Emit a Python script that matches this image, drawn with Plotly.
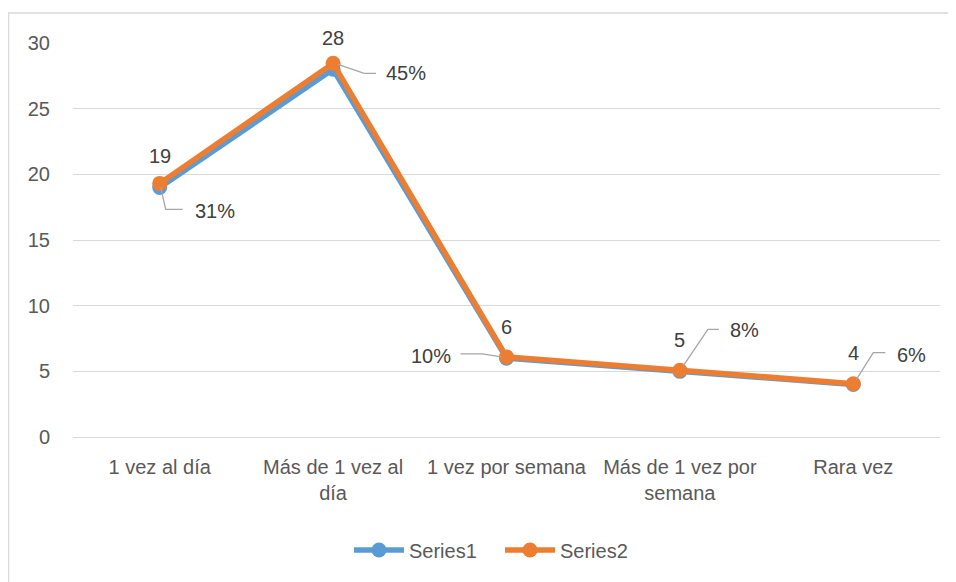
import plotly.graph_objects as go

# ---- data ----
categories = ["1 vez al día", "Más de 1 vez al día", "1 vez por semana",
              "Más de 1 vez por semana", "Rara vez"]
tick_labels = ["1 vez al día", "Más de 1 vez al<br>día", "1 vez por semana",
               "Más de 1 vez por<br>semana", "Rara vez"]
series1 = [19, 28, 6, 5, 4]
series2 = [0.31, 0.45, 0.10, 0.08, 0.06]   # stacked on Series1, shown as %
y_ticks = [0, 5, 10, 15, 20, 25, 30]

# ---- style ----
BLUE = "#5B9BD5"
ORANGE = "#ED7D31"
GRID = "#D9D9D9"
TXT = "#595959"
LBL = "#404040"
LEAD = "#A6A6A6"
FONT = "Liberation Sans, Arial, sans-serif"
FS = 20

OFF = 8  # page body margin
W, H = 956 - OFF, 582 - OFF
L, R, T, B = 65, 16, 35, 145
pw, ph = W - L - R, H - T - B

xs = list(range(len(categories)))

fig = go.Figure()
fig.add_trace(go.Scatter(
    x=xs, y=series1, name="Series1", mode="lines+markers",
    stackgroup="one", fill="none",
    line=dict(color=BLUE, width=5.5), marker=dict(color=BLUE, size=15),
))
fig.add_trace(go.Scatter(
    x=xs, y=series2, name="Series2", mode="lines+markers",
    stackgroup="one", fill="none",
    line=dict(color=ORANGE, width=5.5), marker=dict(color=ORANGE, size=15),
))

annotations = []
shapes = []

# Series1 value labels (above point)
for i, v in enumerate(series1):
    annotations.append(dict(
        x=i, y=v, xref="x", yref="y", text=str(v), showarrow=False,
        yshift=31, font=dict(family=FONT, size=FS, color=LBL),
    ))

# Series2 percentage labels with elbow leader lines (screen-pixel offsets)
leader = [
    dict(p=[(1, 4), (6, 26), (23, 26)], t=(33, 28), anchor="left"),
    dict(p=[(5, 1), (31, 10), (43, 10)], t=(51, 10), anchor="left"),
    dict(p=[(-5, 0), (-24, -3), (-46, -3)], t=(-54, -1), anchor="right"),
    dict(p=[(3, -4), (28, -41), (39, -41)], t=(48, -40), anchor="left"),
    dict(p=[(3, -4), (20, -31), (32, -31)], t=(42, -29), anchor="left"),
]
for i, (a, b) in enumerate(zip(series1, series2)):
    top = a + b
    spec = leader[i]
    pts = spec["p"]
    path = "M {},{} ".format(pts[0][0], -pts[0][1]) + " ".join(
        "L {},{}".format(px, -py) for px, py in pts[1:])
    shapes.append(dict(
        type="path", xref="x", yref="y", xsizemode="pixel", ysizemode="pixel",
        xanchor=i, yanchor=top, path=path,
        line=dict(color=LEAD, width=1.3),
    ))
    annotations.append(dict(
        x=i, y=top, xref="x", yref="y", text="{:.0%}".format(b), showarrow=False,
        xanchor=spec["anchor"], yanchor="middle",
        xshift=spec["t"][0], yshift=-spec["t"][1],
        font=dict(family=FONT, size=FS, color=LBL),
    ))

# chart border (left + top), given in page pixels
def px_x(p):
    return (p - OFF - L) / pw

def px_y(p):
    return (T + ph - (p - OFF)) / ph

shapes.append(dict(
    type="path", xref="paper", yref="paper",
    path="M {},{} L {},{} L {},{}".format(px_x(8.5), px_y(600), px_x(8.5), px_y(13),
                                        px_x(970), px_y(13)),
    line=dict(color=GRID, width=1.5), layer="below",
))

fig.update_layout(
    width=W, height=H,
    margin=dict(l=L, r=R, t=T, b=B),
    paper_bgcolor="white", plot_bgcolor="white",
    font=dict(family=FONT, size=FS, color=TXT),
    showlegend=True,
    legend=dict(orientation="h", x=px_x(500), xanchor="center",
                y=px_y(550), yanchor="middle",
                font=dict(family=FONT, size=FS, color=TXT),
                bgcolor="rgba(0,0,0,0)", itemwidth=50, entrywidth=86),
    xaxis=dict(
        range=[-0.5, len(categories) - 0.5],
        tickvals=xs, ticktext=tick_labels,
        showgrid=False, zeroline=False, showline=False,
        ticks="outside", ticklen=12, tickcolor="rgba(0,0,0,0)",
        tickfont=dict(family=FONT, size=FS, color=TXT),
        fixedrange=True,
    ),
    yaxis=dict(
        range=[0, 30], tickvals=y_ticks,
        showgrid=True, gridcolor=GRID, gridwidth=1.3,
        zeroline=True, zerolinecolor=GRID, zerolinewidth=1.3,
        showline=False,
        ticks="outside", ticklen=18, tickcolor="rgba(0,0,0,0)",
        tickfont=dict(family=FONT, size=FS, color=TXT),
        fixedrange=True,
    ),
    annotations=annotations,
    shapes=shapes,
)

fig.write_html("out.html")
